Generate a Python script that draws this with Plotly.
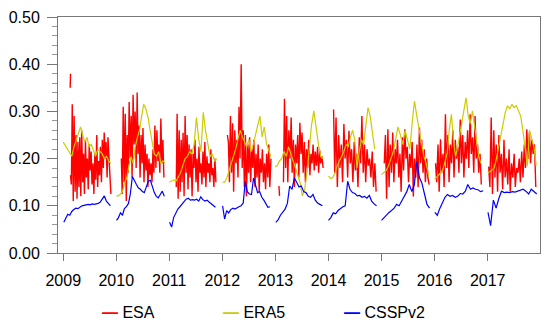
import pandas as pd
import plotly.graph_objects as go

YEARS = list(range(2009, 2018))
TICK_LABELS = [str(y) for y in YEARS]
SERIES_NAMES = ["ESA", "ERA5", "CSSPv2"]
SERIES_COLORS = ["#ff0000", "#cccc00", "#0000ff"]

# ---------------- CSSPv2 (blue) ----------------
CSSP_START = ["2009-01-05", "2010-01-03", "2011-01-03", "2012-01-03", "2013-01-03",
              "2014-01-01", "2015-01-01", "2016-01-03", "2017-01-03"]
CSSP_END = ["2009-11-22", "2010-11-28", "2011-11-15", "2012-11-25", "2013-11-20",
            "2014-11-28", "2015-11-28", "2016-12-01", "2017-12-05"]
CSSP_VALUES = [
    [0.065, 0.075, 0.082, 0.080, 0.088, 0.092, 0.095, 0.094, 0.098, 0.100, 0.101, 0.102,
     0.103, 0.102, 0.104, 0.103, 0.104, 0.105, 0.108, 0.116, 0.121, 0.110, 0.104, 0.100],
    [0.069, 0.075, 0.085, 0.080, 0.094, 0.098, 0.105, 0.125, 0.162, 0.155, 0.145, 0.138,
     0.135, 0.130, 0.128, 0.140, 0.152, 0.154, 0.140, 0.128, 0.120, 0.117, 0.124, 0.131, 0.120],
    [0.065, 0.055, 0.075, 0.085, 0.093, 0.098, 0.104, 0.108, 0.114, 0.116, 0.112, 0.113,
     0.112, 0.114, 0.110, 0.119, 0.113, 0.110, 0.112, 0.108, 0.104, 0.100, 0.097],
    [0.100, 0.072, 0.090, 0.085, 0.092, 0.095, 0.093, 0.096, 0.098, 0.100, 0.106, 0.152,
     0.130, 0.125, 0.124, 0.159, 0.140, 0.128, 0.130, 0.118, 0.112, 0.105, 0.097, 0.098],
    [0.065, 0.070, 0.080, 0.086, 0.093, 0.105, 0.142, 0.135, 0.159, 0.150, 0.140, 0.142,
     0.130, 0.128, 0.120, 0.118, 0.124, 0.112, 0.106, 0.103, 0.100],
    [0.069, 0.075, 0.085, 0.083, 0.090, 0.094, 0.098, 0.100, 0.152, 0.135, 0.128, 0.126,
     0.121, 0.122, 0.118, 0.120, 0.116, 0.122, 0.110, 0.104, 0.100],
    [0.069, 0.075, 0.080, 0.086, 0.090, 0.095, 0.103, 0.100, 0.110, 0.121, 0.130, 0.145,
     0.130, 0.145, 0.194, 0.160, 0.148, 0.125, 0.103, 0.095],
    [0.086, 0.080, 0.095, 0.108, 0.118, 0.124, 0.120, 0.122, 0.118, 0.120, 0.126, 0.125,
     0.131, 0.145, 0.135, 0.138, 0.135, 0.134, 0.130, 0.132],
    [0.086, 0.058, 0.112, 0.095, 0.115, 0.131, 0.128, 0.129, 0.128, 0.130, 0.129, 0.131,
     0.132, 0.135, 0.131, 0.125, 0.135, 0.130, 0.125],
]

# ---------------- ERA5 (yellow) ----------------
ERA5_START = ["2009-01-01", "2010-01-01", "2011-01-01", "2012-01-03", "2012-12-28",
              "2014-01-01", "2015-01-01", "2016-01-01", "2017-01-01"]
ERA5_END = ["2009-11-25", "2010-12-03", "2011-11-25", "2012-12-01", "2013-11-25",
            "2014-11-15", "2015-11-22", "2016-11-15", "2017-12-01"]
ERA5_VALUES = [
    [0.235, 0.228, 0.220, 0.215, 0.205, 0.225, 0.240, 0.255, 0.267, 0.250, 0.235, 0.245,
     0.225, 0.230, 0.215, 0.205, 0.220, 0.215, 0.210, 0.200, 0.205, 0.195, 0.190],
    [0.121, 0.121, 0.125, 0.130, 0.149, 0.160, 0.185, 0.204, 0.190, 0.225, 0.246, 0.260,
     0.290, 0.315, 0.305, 0.287, 0.260, 0.230, 0.210, 0.205, 0.215, 0.190, 0.195, 0.190],
    [0.150, 0.152, 0.155, 0.152, 0.160, 0.170, 0.185, 0.200, 0.204, 0.215, 0.210, 0.230,
     0.287, 0.240, 0.215, 0.298, 0.260, 0.230, 0.204, 0.210, 0.195, 0.200],
    [0.150, 0.150, 0.160, 0.175, 0.190, 0.204, 0.220, 0.240, 0.260, 0.246, 0.235, 0.225,
     0.240, 0.215, 0.230, 0.250, 0.270, 0.290, 0.246, 0.267, 0.232, 0.220, 0.204],
    [0.183, 0.185, 0.195, 0.200, 0.215, 0.205, 0.225, 0.210, 0.195, 0.180, 0.165, 0.150,
     0.121, 0.135, 0.170, 0.220, 0.270, 0.301, 0.260, 0.230, 0.204, 0.200],
    [0.163, 0.158, 0.160, 0.170, 0.185, 0.195, 0.204, 0.215, 0.230, 0.225, 0.245, 0.260,
     0.240, 0.180, 0.215, 0.240, 0.230, 0.270, 0.308, 0.290, 0.250, 0.220],
    [0.166, 0.170, 0.175, 0.185, 0.200, 0.215, 0.240, 0.267, 0.250, 0.230, 0.260, 0.240,
     0.220, 0.275, 0.322, 0.290, 0.260, 0.235, 0.204, 0.190, 0.163],
    [0.156, 0.160, 0.165, 0.170, 0.177, 0.195, 0.211, 0.260, 0.294, 0.240, 0.204, 0.225,
     0.250, 0.274, 0.300, 0.329, 0.290, 0.274, 0.301, 0.270, 0.232, 0.205, 0.190],
    [0.170, 0.172, 0.176, 0.180, 0.200, 0.225, 0.253, 0.275, 0.298, 0.312, 0.305, 0.315,
     0.308, 0.312, 0.300, 0.290, 0.260, 0.220, 0.184, 0.260, 0.240, 0.225, 0.185],
]

# ---------------- ESA (red) ----------------
ESA_START = ["2009-02-20", "2010-02-05", "2011-02-18", "2012-02-05", "2013-02-25",
             "2014-02-05", "2015-01-20", "2016-01-08", "2017-01-08"]
ESA_END = ["2009-11-25", "2010-11-25", "2011-11-18", "2012-12-01", "2013-11-25",
           "2014-11-25", "2015-11-25", "2016-11-18", "2017-11-28"]
ESA_VALUES = [
    [0.165, 0.145, 0.315, 0.110, 0.290, 0.130, 0.250, 0.115, 0.235, 0.140, 0.245, 0.120,
     0.260, 0.150, 0.210, 0.125, 0.240, 0.160, 0.200, 0.135, 0.230, 0.175, 0.215, 0.145,
     0.190, 0.125, 0.210, 0.155, 0.250, 0.140, 0.195, 0.165, 0.225, 0.150, 0.240, 0.180,
     0.255, 0.200, 0.235, 0.160, 0.245, 0.190, 0.175, 0.125],
    [0.200, 0.125, 0.310, 0.150, 0.295, 0.110, 0.250, 0.170, 0.320, 0.200, 0.290, 0.160,
     0.335, 0.230, 0.300, 0.180, 0.340, 0.210, 0.270, 0.160, 0.250, 0.190, 0.265, 0.150,
     0.230, 0.175, 0.210, 0.140, 0.200, 0.165, 0.190, 0.150, 0.220, 0.170, 0.270, 0.180,
     0.260, 0.195, 0.230, 0.170, 0.285, 0.190, 0.240, 0.160],
    [0.140, 0.295, 0.115, 0.260, 0.130, 0.240, 0.150, 0.255, 0.120, 0.290, 0.170, 0.250,
     0.135, 0.230, 0.160, 0.220, 0.120, 0.210, 0.180, 0.240, 0.150, 0.200, 0.130, 0.225,
     0.170, 0.190, 0.145, 0.215, 0.160, 0.235, 0.140, 0.205, 0.170, 0.190, 0.150, 0.220,
     0.165, 0.180, 0.140, 0.200, 0.150],
    [0.250, 0.235, 0.150, 0.290, 0.170, 0.275, 0.130, 0.260, 0.190, 0.240, 0.160, 0.310,
     0.200, 0.400, 0.180, 0.260, 0.140, 0.250, 0.120, 0.230, 0.170, 0.245, 0.150, 0.220,
     0.180, 0.240, 0.140, 0.210, 0.160, 0.230, 0.130, 0.200, 0.170, 0.220, 0.150, 0.190,
     0.135, 0.210, 0.160, 0.230, 0.140, 0.200],
    [0.150, 0.327, 0.180, 0.290, 0.150, 0.260, 0.200, 0.287, 0.170, 0.240, 0.140, 0.230,
     0.190, 0.250, 0.160, 0.276, 0.210, 0.255, 0.170, 0.235, 0.150, 0.220, 0.180, 0.240,
     0.165, 0.210, 0.190, 0.230, 0.175, 0.215, 0.185, 0.225, 0.170, 0.217, 0.190, 0.205,
     0.180],
    [0.304, 0.170, 0.287, 0.140, 0.250, 0.180, 0.230, 0.150, 0.273, 0.200, 0.240, 0.160,
     0.259, 0.190, 0.220, 0.150, 0.235, 0.175, 0.210, 0.140, 0.245, 0.190, 0.290, 0.170,
     0.230, 0.150, 0.220, 0.185, 0.200, 0.160, 0.215, 0.140, 0.190, 0.130],
    [0.190, 0.250, 0.115, 0.262, 0.140, 0.230, 0.170, 0.255, 0.150, 0.220, 0.190, 0.240,
     0.160, 0.210, 0.130, 0.245, 0.175, 0.262, 0.200, 0.225, 0.150, 0.210, 0.180, 0.235,
     0.120, 0.200, 0.160, 0.230, 0.140, 0.266, 0.190, 0.240, 0.170, 0.220, 0.150, 0.200,
     0.160, 0.145],
    [0.190, 0.150, 0.230, 0.130, 0.241, 0.170, 0.210, 0.140, 0.294, 0.180, 0.250, 0.150,
     0.230, 0.190, 0.260, 0.160, 0.240, 0.200, 0.225, 0.170, 0.283, 0.190, 0.250, 0.160,
     0.235, 0.200, 0.260, 0.180, 0.294, 0.210, 0.245, 0.170, 0.290, 0.200, 0.230, 0.170,
     0.210, 0.145],
    [0.183, 0.140, 0.287, 0.125, 0.260, 0.160, 0.230, 0.130, 0.250, 0.170, 0.210, 0.135,
     0.240, 0.160, 0.200, 0.145, 0.220, 0.130, 0.190, 0.160, 0.210, 0.140, 0.180, 0.170,
     0.200, 0.150, 0.215, 0.160, 0.230, 0.180, 0.262, 0.200, 0.255, 0.190, 0.240, 0.210,
     0.230, 0.140],
]
# short isolated ESA fragments
ESA_EXTRA_DATES = [["2009-02-18", "2009-02-20"], ["2013-01-25", "2013-01-29"]]
ESA_EXTRA_VALUES = [[0.350, 0.380], [0.142, 0.121]]


def build(starts, ends, values, extra_dates=None, extra_values=None):
    xs, ys = [], []
    for s, e, v in zip(starts, ends, values):
        d = pd.date_range(s, e, periods=len(v))
        xs += list(d.strftime("%Y-%m-%d")) + [None]
        ys += list(v) + [None]
    if extra_dates:
        for d, v in zip(extra_dates, extra_values):
            xs += list(d) + [None]
            ys += list(v) + [None]
    return xs, ys


esa_x, esa_y = build(ESA_START, ESA_END, ESA_VALUES, ESA_EXTRA_DATES, ESA_EXTRA_VALUES)
era_x, era_y = build(ERA5_START, ERA5_END, ERA5_VALUES)
cssp_x, cssp_y = build(CSSP_START, CSSP_END, CSSP_VALUES)

fig = go.Figure()
for name, color, xs, ys, w in zip(SERIES_NAMES, SERIES_COLORS,
                                  [esa_x, era_x, cssp_x], [esa_y, era_y, cssp_y],
                                  [1.4, 1.2, 1.2]):
    fig.add_trace(go.Scatter(x=xs, y=ys, mode="lines", name=name, showlegend=False,
                             line=dict(color=color, width=w), connectgaps=False))

FONT = "Liberation Sans, Arial, Helvetica, sans-serif"

# legend drawn as text entries below the plot (short line glyph + name)
LEGEND_X = [0.087, 0.338, 0.589]
for name, color, lx in zip(SERIES_NAMES, SERIES_COLORS, LEGEND_X):
    fig.add_annotation(
        xref="paper", yref="paper", x=lx, y=-0.25, xanchor="left", yanchor="middle",
        showarrow=False, font=dict(family=FONT, size=16, color="black"),
        text=f"<span style='color:{color}'><b>\u2014</b></span> {name}",
    )

# the page body adds an 8 px margin, so the figure is 8 px smaller than the window
fig.update_layout(
    width=542, height=317,
    margin=dict(l=50, r=10, t=9, b=72),
    plot_bgcolor="white", paper_bgcolor="white",
    font=dict(family=FONT, size=16, color="black"),
    showlegend=False,
)
fig.update_xaxes(
    type="date", range=["2008-11-26", "2017-12-27"],
    tickvals=[f"{y}-01-01" for y in YEARS], ticktext=TICK_LABELS,
    ticks="outside", ticklen=7, tickwidth=1, tickcolor="#777",
    showline=True, linecolor="#777", linewidth=1, mirror=True,
    showgrid=False, zeroline=False, tickfont=dict(size=16),
    automargin=False, ticklabelstandoff=6,
)
fig.update_yaxes(
    range=[0, 0.5], dtick=0.1, tick0=0, tickformat=".2f",
    ticks="outside", ticklen=10, tickwidth=1, tickcolor="#777",
    minor=dict(dtick=0.02, ticks="outside", ticklen=5, tickcolor="#999", showgrid=False),
    showline=True, linecolor="#777", linewidth=1, mirror=True,
    showgrid=False, zeroline=False, tickfont=dict(size=16),
    automargin=False, ticklabelstandoff=4, ticklabeloverflow="allow",
)

fig.write_html("out.html")
